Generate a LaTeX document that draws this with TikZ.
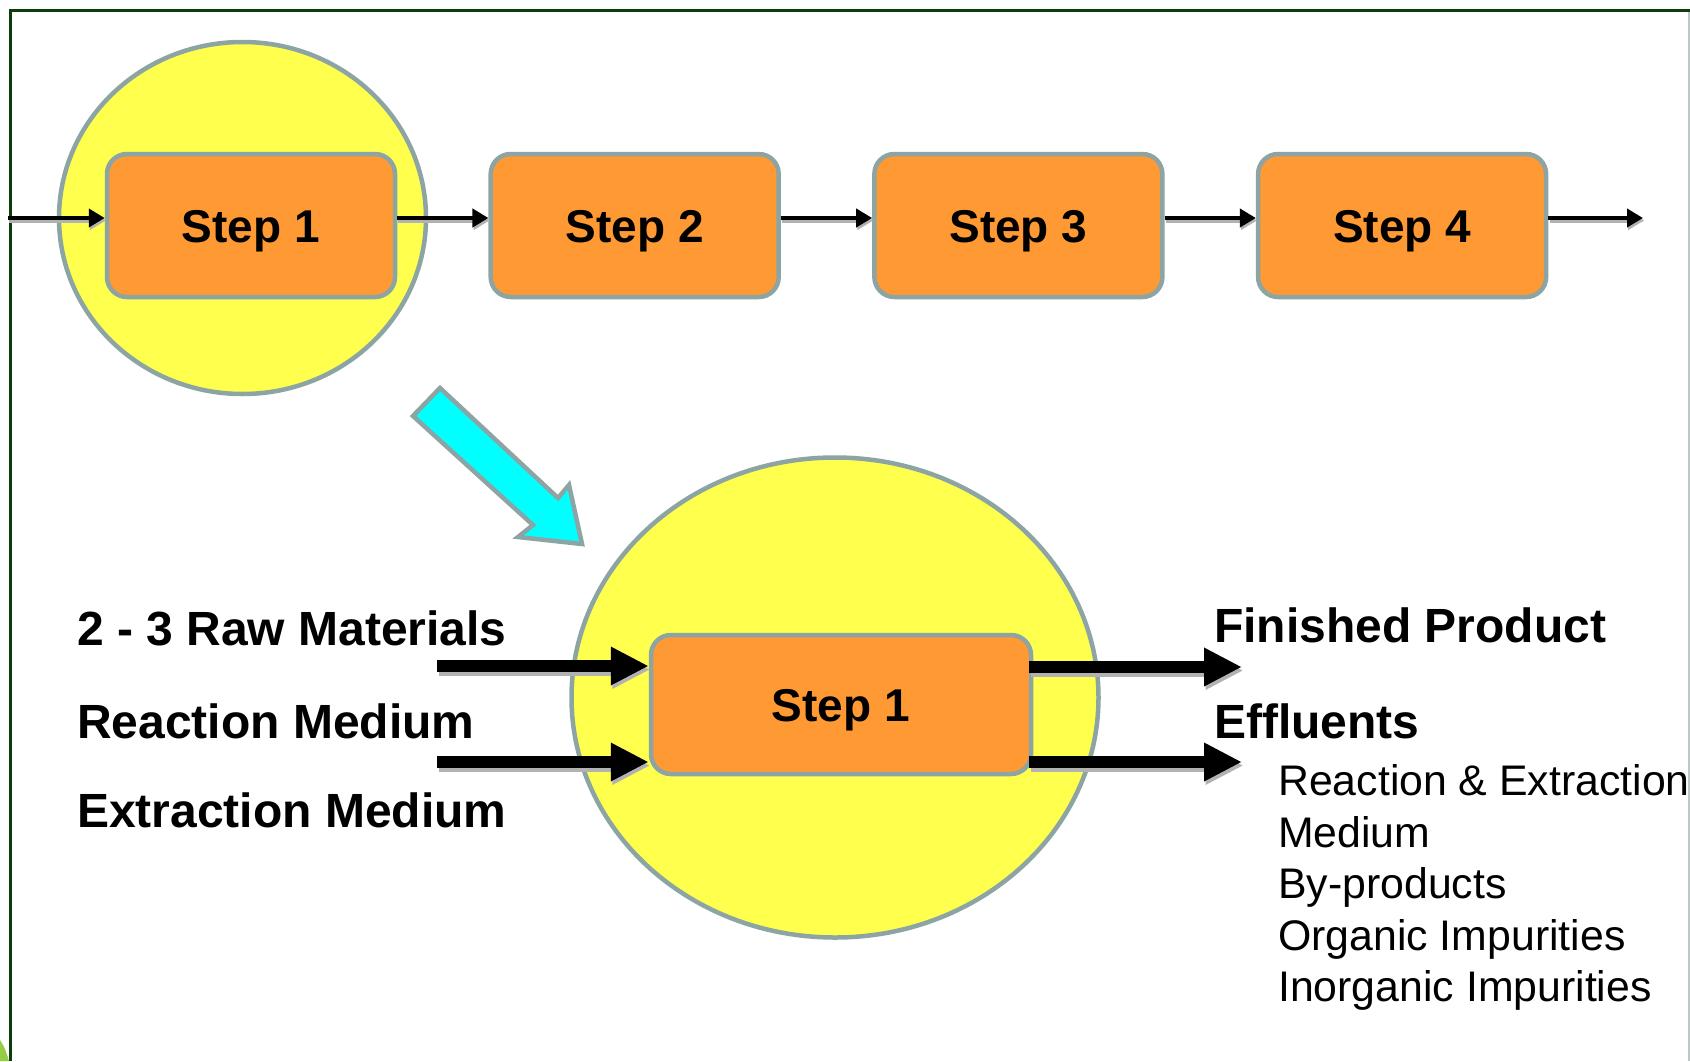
\documentclass[tikz,border=0pt]{standalone}
\usepackage{fontspec}
\setmainfont{Liberation Sans}
\usetikzlibrary{shapes.geometric,arrows.meta}

\definecolor{frameGreen}{RGB}{12,62,12}
\definecolor{edgeGray}{RGB}{140,164,164}
\definecolor{stepOrange}{RGB}{255,153,51}
\definecolor{zoomYellow}{RGB}{255,255,78}
\definecolor{pointerCyan}{RGB}{0,255,255}
\definecolor{leafGreen}{RGB}{150,205,70}

% every flow arrow of the slide, drawn once as shadow and once in black
\newcommand\chainflows{%
  \draw[thinflow] (feed) -- ([yshift=7.5pt]s1.west);
  \draw[thinflow] ([yshift=7.5pt]s1.east) -- ([yshift=7.5pt]s2.west);
  \draw[thinflow] ([yshift=7.5pt]s2.east) -- ([yshift=7.5pt]s3.west);
  \draw[thinflow] ([yshift=7.5pt]s3.east) -- ([yshift=7.5pt]s4.west);
  \draw[thinflow] ([yshift=7.5pt]s4.east) -- (exit);
}
\newcommand\detailflows{%
  \draw[thickflow] (in1) -- (in1 -| b1.west);
  \draw[thickflow] (in2) -- (in2 -| b1.west);
  \draw[thickflow] ([xshift=-4pt]out1 -| b1.east) -- (out1);
  \draw[thickflow] ([xshift=-4pt]out2 -| b1.east) -- (out2);
}

\begin{document}
\begin{tikzpicture}[x=1pt,y=-1pt,
  stepbox/.style={draw=edgeGray, line width=4.5pt, fill=stepOrange,
    rounded corners=20pt, inner sep=0pt,
    font=\bfseries\fontsize{46}{50}\selectfont, text height=34pt, text depth=-2pt},
  bigstep/.style={stepbox, minimum width=380pt, minimum height=139pt},
  smallstep/.style={stepbox, minimum width=288pt, minimum height=143pt},
  focus/.style={ellipse, draw=edgeGray, line width=4.5pt, fill=zoomYellow, inner sep=0pt},
  thinflow/.style={line width=4.5pt, -{Triangle[length=16pt,width=18pt]}},
  thickflow/.style={line width=12pt, -{Triangle[length=38pt,width=36pt]}},
  boldlabel/.style={anchor=base west, inner sep=0pt, font=\bfseries\fontsize{48}{52}\selectfont},
  plainlabel/.style={anchor=base west, inner sep=0pt, font=\fontsize{42.8}{48}\selectfont}
]
% canvas
\fill[white] (0,0) rectangle (1690,1061);
\useasboundingbox (0,0) rectangle (1690,1061);

% slide frame
\fill[leafGreen] (0,1040) .. controls (5,1048) .. (9,1061) -- (0,1061) -- cycle;
\draw[edgeGray!60, line width=1.5pt] (1689,10) -- (1689,1061);
\draw[frameGreen, line width=2.5pt] (10.5,1061) -- (10.5,10.5) -- (1690,10.5);

% ---------- process chain ----------
\node[focus, minimum width=367pt, minimum height=352pt] (f1) at (242.5,218) {};
\node[smallstep] (s1) at (251,225.5) {Step 1};
\node[smallstep] (s2) at (634.7,225.5) {Step 2};
\node[smallstep] (s3) at (1018.4,225.5) {Step 3};
\node[smallstep] (s4) at (1402.1,225.5) {Step 4};

\coordinate (feed) at (8,218);
\coordinate (exit) at (1643,218);
\begin{scope}[transform canvas={shift={(1.2pt,-2.5pt)}}, gray!60]
  \chainflows
\end{scope}
\chainflows

% ---------- pointer to detail ----------
\draw[edgeGray, line width=4.5pt, fill=pointerCyan, line join=miter]
  (440,388) -- (558,498) -- (569,485) -- (582,544) -- (518,537) -- (533,525) -- (413,416) -- cycle;

% ---------- detail of the first step ----------
\node[focus, minimum width=527pt, minimum height=480pt] (f2) at (835,697.5) {};
\node[bigstep, text depth=-4.5pt] (b1) at (841,704.5) {Step 1};

\coordinate (in1) at (437,666);
\coordinate (in2) at (437,762);
\coordinate (out1) at (1242,667);
\coordinate (out2) at (1242,762);
\begin{scope}[transform canvas={shift={(1.5pt,-3.5pt)}}, gray!60]
  \detailflows
\end{scope}
\detailflows

% inputs
\node[boldlabel] (raw) at (77,645) {2 - 3 Raw Materials};
\node[boldlabel] (rmed) at (77,738) {Reaction Medium};
\node[boldlabel] (xmed) at (77,827) {Extraction Medium};

% outputs
\node[boldlabel] (prod) at (1214,642) {Finished Product};
\node[boldlabel] (eff) at (1214,738) {Effluents};
\node[plainlabel] (e1) at (1278,795.5) {Reaction \& Extraction};
\node[plainlabel] (e2) at (1278,847) {Medium};
\node[plainlabel] (e3) at (1278,898.5) {By-products};
\node[plainlabel] (e4) at (1278,950) {Organic Impurities};
\node[plainlabel] (e5) at (1278,1001.5) {Inorganic Impurities};
\end{tikzpicture}
\end{document}
